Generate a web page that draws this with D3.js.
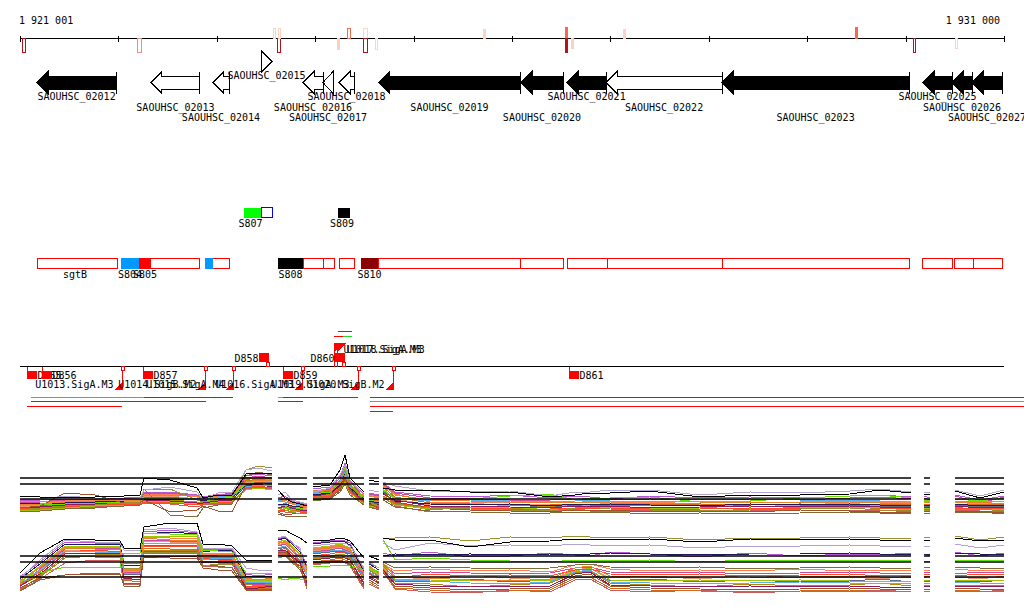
<!DOCTYPE html>
<html><head><meta charset="utf-8">
<script src="https://cdn.jsdelivr.net/npm/d3@7"></script>
<style>
body{margin:0;background:#fff}
svg{display:block}
text{font-family:"DejaVu Sans Mono",monospace;font-size:10px;fill:#000}
</style>
</head><body>
<svg id="c" width="1024" height="611"></svg>
<script>
// ---------------- DATA ----------------
const regionStart = 1921001, regionEnd = 1931000;
const axisTickStep = 1000;
const axisLabels = ["1 921 001", "1 931 000"];

// variant markers on the coordinate axis
const varStart  = [1921021,1922190,1923572,1923613,1923623,1924222,1924324,1924487,1924487,1924609,1925706,1926539,1926539,1926600,1927129,1929486,1930075,1930502];
const varEnd    = [1921052,1922231,1923592,1923643,1923643,1924243,1924354,1924527,1924527,1924629,1925726,1926559,1926559,1926610,1927149,1929506,1930096,1930522];
const varSide   = [-1,-1,1,-1,1,-1,1,1,-1,-1,1,1,-1,-1,1,1,-1,-1];
const varColor  = ["#b3141c","#e89080","#fcd2c2","#b3141c","#fcd2c2","#fcd0c0","#f26a4f","#fcd2c2","#b3141c","#fcd2c2","#fcd2c2","#f26a4f","#b3141c","#fcd2c2","#fcd2c2","#f26a4f","#b3141c","#fcd2c2"];
const varFilled = [0,0,0,0,0,1,0,0,0,0,1,1,1,1,1,1,0,0];
const varLen    = [14,14,10,14,10,11,10,10,14,11,9,11,14,10,9,11,14,10];

// genes
const geneNames  = ["SAOUHSC_02012","SAOUHSC_02013","SAOUHSC_02014","SAOUHSC_02015","SAOUHSC_02016","SAOUHSC_02017","SAOUHSC_02018","SAOUHSC_02019","SAOUHSC_02020","SAOUHSC_02021","SAOUHSC_02022","SAOUHSC_02023","SAOUHSC_02025","SAOUHSC_02026","SAOUHSC_02027"];
const geneStart  = [1921174,1922332,1922962,1923450,1923877,1924080,1924243,1924649,1926092,1926560,1926956,1928135,1930177,1930472,1930675];
const geneEnd    = [1921977,1922830,1923125,1923562,1924080,1924182,1924395,1926082,1926519,1926956,1928135,1930035,1930472,1930675,1930980];
const geneStrand = [-1,-1,-1,1,-1,-1,-1,-1,-1,-1,-1,-1,-1,-1,-1];
const geneFilled = [1,0,0,0,0,0,0,1,1,1,0,1,1,1,1];
const geneLane   = [0,0,0,1,0,0,0,0,0,0,0,0,0,0,0];
const geneLabelRow = [1,2,3,1,2,3,1,2,3,1,2,3,1,2,3];

// small features above the box row
const sfStart = [1923277,1923450,1924233];
const sfEnd   = [1923450,1923562,1924354];
const sfColor = ["#00ff00","#0000ff","#000000"];
const sfFilled= [1,0,1];
const sfLabel = ["S807","","S809"];

// red outlined boxes row
const boxStart = [1921174,1922210,1922962,1923877,1924080,1924243,1924639,1926082,1926560,1926966,1928135,1930167,1930502,1930685];
const boxEnd   = [1921987,1922830,1923125,1924080,1924192,1924395,1926082,1926519,1926966,1928135,1930035,1930472,1930685,1930980];
const boxLabel = ["sgtB","","","","","","","","","","","","",""];
const rfStart = [1922027,1922210,1922881,1923623,1924466];
const rfEnd   = [1922210,1922332,1922962,1923877,1924639];
const rfColor = ["#0099ff","#ff0000","#0099ff","#000000","#8b0000"];
const rfLabel = ["S804","S805","","S808","S810"];

// D features
const dPos    = [1921072,1921225,1922251,1923430,1923674,1924202,1926580];
const dStrand = [-1,-1,-1,1,-1,1,-1];
const dName   = ["D855","D856","D857","D858","D859","D860","D861"];

// U features
const uPos    = [1922038,1922881,1923166,1923867,1924436,1924791,1924192,1924222];
const uStrand = [-1,-1,-1,-1,-1,-1,1,1];
const uName   = ["U1013.SigA.M3","U1014.SigB.M2","U1015.SigA.M4","U1016.SigA.M3","U1019.SigA.M3","U1020.SigB.M2","U1017.SigA.M3","U1018.SigA.M3"];

// read coverage lines
const rlStart = [1921113,1922261,1923623,1923674,1924558,1921113,1923623,1924558,1921072,1924558,1924558,1924233,1924192,1924283];
const rlEnd   = [1922261,1923166,1923674,1924436,1931204,1922891,1923877,1931204,1922038,1931204,1924791,1924375,1924283,1924375];
const rlRow   = [1,1,1,1,1,2,2,2,3,3,4,-2,-1,-1];
const rlColor = ["#22dd22","#ff0000","#22dd22","#ff0000","#ff0000","#ff0000","#ff0000","#22dd22","#ff0000","#ff0000","#ff0000","#ff0000","#ff0000","#22dd22"];

// expression profiles
const exprSegments = [[1921001,1923562],[1923623,1923918],[1923978,1924497],[1924548,1924649],[1924690,1930055],[1930187,1930248],[1930502,1931000]];
const probePos = [1921001,1921204,1921458,1921763,1922017,1922058,1922220,1922261,1922525,1922800,1922861,1923013,1923155,1923298,1923420,1923562,
  1923623,1923694,1923765,1923846,1923918,
  1923978,1924151,1924253,1924304,1924354,1924497,
  1924548,1924649,
  1924690,1924812,1925167,1925574,1925980,1926387,1926641,1926793,1926997,1927403,1927911,1928419,1928927,1929435,1929740,1930055,
  1930187,1930248,
  1930502,1930757,1931000];
const refLevels = [42, 36, 21];
const seriesColors = ["#000000","#b3a3d3","#9c8f2e","#f07f2a","#a0522d","#66e000","#5ab0f0","#8b1a5e","#ff4a2a","#a2c200","#1c1c5c","#cc4aa0","#d2691e","#7f6a3a","#e9967a","#b8860b","#ba55d3","#cd5c5c","#ff7f50","#5a6f8f"];

const exprTop = [
 [24,23,22,23,24,24,25,42,40,32,22,25,25,46,47,46, 30,22,18,16,14, 33,35,50,65,42,28, 40,38, 32,30,30,28,28,23,25,27,27,29,23,25,25,26,30,27, 26,26, 29,22,28],
 [20,21,24,22,20,20,22,30,33,28,20,27,28,50,52,49, 25,28,20,18,16, 28,32,45,55,40,25, 30,28, 38,34,29,28,29,24,28,28,30,30,25,28,27,29,31,28, 28,27, 30,24,30],
 [10,12,14,15,17,17,18,30,31,20,18,20,22,50,54,52, 12,10,8,6,7, 22,26,40,50,35,20, 18,14, 22,16,12,11,10,9,12,13,11,10,9,10,11,12,10,9, 10,9, 10,11,9],
 [15,16,18,19,20,20,20,24,25,24,22,24,25,38,40,40, 18,20,16,14,12, 30,30,36,45,33,24, 24,22, 35,25,20,19,18,17,18,18,17,16,17,18,17,18,17,16, 18,17, 17,18,16],
 [12,14,27,25,18,18,17,20,8,10,14,9,8,35,38,36, 8,5,6,7,6, 20,22,30,42,30,18, 16,12, 28,18,12,10,9,8,10,9,10,8,9,8,10,9,8,7, 8,9, 8,9,7],
 [14,15,16,17,18,18,19,21,22,20,18,22,24,36,38,35, 15,14,10,12,10, 26,28,40,52,36,22, 20,18, 30,22,20,21,24,26,20,22,22,23,18,19,22,24,25,22, 20,19, 21,19,22],
 [18,19,19,19,20,20,21,22,22,22,20,23,24,33,35,34, 20,18,16,15,14, 27,30,38,48,34,22, 22,20, 30,22,19,20,19,18,19,20,19,19,18,19,19,20,19,18, 19,18, 19,18,19],
 [13,13,15,16,18,18,17,20,19,17,17,19,20,34,36,33, 12,14,12,10,9, 24,26,34,44,30,19, 17,15, 26,20,14,14,13,12,14,13,14,12,13,14,13,14,13,12, 13,12, 14,12,13],
 [11,12,13,15,16,16,16,18,17,15,16,17,18,32,34,32, 10,9,11,8,8, 23,24,32,40,28,17, 15,13, 24,17,13,12,11,11,12,11,12,11,11,12,11,12,12,11, 11,10, 12,11,12],
 [9,10,12,14,15,15,16,19,18,16,16,18,19,30,32,30, 9,12,9,8,7, 21,22,30,38,27,16, 14,12, 23,15,11,12,13,10,12,12,13,11,12,11,12,13,12,10, 12,11, 11,12,10],
 [16,17,17,18,19,19,19,21,21,20,19,21,22,35,37,36, 16,16,14,13,12, 25,27,35,46,32,21, 19,17, 27,19,16,15,16,14,16,15,16,15,14,16,15,16,15,14, 15,14, 16,14,15],
 [17,18,20,21,21,21,22,26,27,24,21,25,27,42,44,42, 22,24,18,17,15, 29,31,42,54,38,23, 26,24, 36,27,22,21,20,20,21,21,20,21,20,21,20,22,23,21, 22,20, 24,17,23],
 [12,13,16,17,18,18,18,22,22,20,19,20,22,40,43,41, 14,17,13,11,10, 26,29,38,50,34,21, 21,19, 33,23,17,16,15,15,16,16,15,15,16,15,16,15,16,15, 16,15, 16,15,16],
 [8,9,11,12,14,14,15,31,5,3,12,15,16,44,48,45, 6,4,3,4,4, 19,21,28,36,25,15, 13,10, 20,13,9,8,7,7,8,7,8,6,7,6,7,8,7,6, 7,6, 7,8,6],
 [13,15,17,18,19,19,20,23,24,21,20,23,23,37,39,38, 16,15,13,12,11, 27,28,37,47,33,20, 20,17, 31,21,15,17,14,16,13,15,17,14,16,13,15,17,14,15, 14,16, 15,17,14],
 [11,11,13,16,17,17,17,22,20,18,17,21,21,39,41,39, 11,13,10,9,9, 24,25,33,42,29,18, 16,14, 27,17,10,13,11,14,9,12,14,11,13,10,13,14,11,12, 12,10, 13,10,12],
 [19,20,21,20,22,22,23,27,28,25,23,26,26,44,46,44, 23,21,19,16,17, 31,33,44,57,39,26, 27,25, 37,28,24,23,25,22,24,23,21,24,22,23,22,24,25,23, 24,22, 25,20,24],
 [10,11,12,13,15,15,15,17,16,13,15,16,17,31,33,31, 9,8,7,9,8, 22,23,31,39,27,16, 14,11, 23,14,8,9,10,8,11,9,8,10,8,9,10,9,10,8, 9,8, 10,9,8],
 [16,16,19,20,21,21,21,25,26,23,21,24,26,41,42,40, 19,22,17,15,13, 28,31,39,51,36,23, 25,23, 34,26,18,18,17,19,17,19,18,17,19,17,18,19,18,17, 18,17, 18,16,17],
 [14,14,16,18,19,19,18,23,23,21,18,22,23,37,39,37, 13,12,11,11,11, 25,27,36,47,31,20, 18,16, 29,21,15,16,15,13,15,14,15,14,15,14,14,15,14,13, 14,13, 15,13,14]
];
const exprBottom = [
 [25,45,59,58,57,50,49,71,75,75,54,54,52,38,38,37, 68,68,64,60,55, 57,58,60,59,57,40, 42,38, 60,58,58,51,56,57,59,59,58,59,56,59,58,59,58,57, 58,58, 60,57,58],
 [20,38,58,56,55,48,48,68,70,66,50,50,50,30,28,28, 60,62,55,50,20, 52,54,55,55,52,30, 36,30, 55,48,55,52,53,52,54,53,52,53,50,52,52,53,52,52, 52,51, 54,50,53],
 [15,22,42,41,40,30,30,45,46,46,32,34,34,14,12,14, 40,42,35,30,28, 40,42,44,43,40,22, 28,22, 60,60,61,57,61,60,62,61,60,61,58,60,60,61,60,59, 61,60, 62,58,61],
 [18,30,50,49,48,28,27,60,58,57,42,43,44,20,18,20, 55,56,50,40,30, 48,50,52,50,48,25, 32,25, 35,22,20,18,17,19,30,32,22,21,20,20,21,22,21,20, 22,21, 20,21,20],
 [10,20,23,24,23,15,14,42,40,40,30,28,27,8,7,8, 45,46,40,30,12, 35,37,38,36,34,12, 18,12, 25,12,10,8,9,10,22,24,12,10,9,8,9,10,9,8, 9,8, 10,9,8],
 [22,25,31,31,30,45,45,65,64,63,48,47,46,25,24,25, 20,18,20,19,18, 32,32,33,33,32,28, 30,26, 58,38,40,38,37,36,38,38,37,38,36,38,38,37,38,37, 36,37, 38,37,38],
 [14,28,47,46,45,25,24,55,55,54,38,40,40,16,15,16, 50,52,45,38,25, 45,47,48,47,45,20, 26,20, 30,18,17,15,14,16,26,28,16,15,14,15,16,15,14,15, 15,14, 16,15,14],
 [12,24,44,45,44,20,18,40,42,41,35,36,35,10,10,12, 48,48,42,35,15, 38,40,41,40,38,14, 20,15, 28,14,12,12,11,12,24,26,13,12,11,12,11,12,11,10, 12,11, 12,11,12],
 [13,26,46,48,46,22,22,52,52,51,40,38,38,12,11,13, 47,50,44,36,22, 42,44,46,45,42,18, 24,18, 32,20,24,22,23,22,28,29,24,23,24,22,23,24,22,23, 24,23, 22,24,23],
 [16,32,52,52,51,30,30,62,62,61,45,45,44,18,17,18, 56,58,52,44,26, 50,52,54,52,50,24, 30,24, 33,19,18,17,18,17,27,30,18,17,18,17,18,17,16,17, 17,18, 18,17,18],
 [19,34,54,54,53,33,32,64,66,64,46,48,47,22,21,22, 58,60,54,46,30, 54,56,57,56,53,26, 34,28, 42,44,43,44,43,44,43,44,45,44,43,44,44,45,44,43, 44,43, 45,44,44],
 [11,29,49,50,49,26,26,58,57,56,40,41,41,14,13,15, 52,54,47,40,24, 46,48,50,48,46,22, 28,21, 34,24,26,25,24,25,30,31,26,25,26,24,25,26,25,24, 26,25, 24,26,25],
 [9,21,40,42,41,18,16,50,49,49,36,35,34,11,9,10, 44,45,38,32,10, 36,38,40,38,36,10, 16,10, 30,10,8,6,7,8,20,21,10,8,7,6,7,8,6,7, 7,6, 8,7,6],
 [7,18,23,25,24,12,12,47,47,46,33,32,30,9,8,9, 42,43,36,28,14, 34,36,37,36,33,16, 22,16, 36,30,31,30,29,30,33,34,31,30,31,29,30,31,30,29, 31,30, 31,30,29],
 [17,27,48,47,47,27,26,57,56,55,41,42,42,17,16,17, 53,55,48,42,27, 47,49,51,49,47,23, 29,23, 31,21,19,23,20,18,28,30,20,22,19,23,20,21,19,22, 20,22, 21,19,22],
 [12,23,45,44,43,19,19,48,48,47,37,37,36,11,10,11, 46,47,41,34,18, 39,41,43,41,39,15, 21,14, 29,15,14,11,13,15,25,27,15,13,11,14,12,13,15,12, 13,12, 13,12,13],
 [21,36,56,55,54,35,34,66,68,65,48,49,49,24,22,24, 59,61,56,48,32, 55,57,58,57,55,28, 35,30, 45,42,46,41,42,45,43,42,46,44,41,45,42,44,43,45, 44,42, 46,42,45],
 [8,19,35,38,37,14,13,44,45,44,32,31,31,8,7,9, 43,44,37,30,9, 33,35,36,35,32,9, 14,9, 27,9,6,5,8,6,18,19,8,6,8,5,7,6,8,6, 6,7, 7,6,8],
 [15,31,51,51,50,29,29,61,60,59,44,44,43,19,18,19, 54,57,51,43,29, 49,51,53,51,49,25, 31,26, 34,27,29,27,28,26,33,34,29,27,28,27,29,27,28,27, 28,27, 29,27,28],
 [14,27,47,47,46,24,23,53,53,53,39,39,39,15,14,15, 49,51,45,37,22, 44,46,47,46,44,19, 25,19, 31,17,16,19,16,18,25,27,17,19,16,18,16,17,19,16, 16,17, 17,16,18]
];

// ---------------- DRAWING ----------------
const svg = d3.select("#c");
const x = d3.scaleLinear().domain([regionStart, regionEnd]).range([20, 1004]);
const crisp = g => g.attr("shape-rendering","crispEdges");

// --- coordinate axis ---
const axisY = 38.5;
const gAx = svg.append("g").call(crisp);
gAx.append("line").attr("x1", x(regionStart)).attr("x2", x(regionEnd)).attr("y1", axisY).attr("y2", axisY).attr("stroke","#000");
const ticks = d3.range(regionStart, regionEnd, axisTickStep).concat([regionEnd]);
gAx.selectAll("line.t").data(ticks).join("line").attr("class","t")
  .attr("x1", d => Math.round(x(d))+0.5).attr("x2", d => Math.round(x(d))+0.5)
  .attr("y1", 35.5).attr("y2", 41.5).attr("stroke","#000");
svg.append("text").attr("x", x(regionStart)-1).attr("y", 24).text(axisLabels[0]);
svg.append("text").attr("x", x(regionEnd)-4).attr("y", 24).attr("text-anchor","end").text(axisLabels[1]);

// variant markers
const gV = svg.append("g").call(crisp);
varStart.forEach((s,i) => {
  const x0 = Math.round(x(s)), w = Math.max(2, Math.round(x(varEnd[i]) - x(s)));
  const y0 = varSide[i] > 0 ? axisY - varLen[i] : axisY;
  gV.append("rect").attr("x", x0+0.5).attr("y", y0).attr("width", w).attr("height", varLen[i])
    .attr("fill", varFilled[i] ? varColor[i] : "#fff").attr("stroke", varColor[i]);
});

// --- genes ---
const gG = svg.append("g").call(crisp);
const bh = 6.5, hh = 11, headMax = 11;
geneNames.forEach((name,i) => {
  const s = x(geneStart[i]), e = x(geneEnd[i]);
  const cy = 82.5 - 21*geneLane[i];
  const hl = Math.min(headMax, e - s);
  let pts;
  if (geneStrand[i] < 0) {
    pts = (hl >= e - s) ? [[e,cy-hh],[s,cy],[e,cy+hh]]
      : [[e,cy-bh],[s+hl,cy-bh],[s+hl,cy-hh],[s,cy],[s+hl,cy+hh],[s+hl,cy+bh],[e,cy+bh]];
  } else {
    pts = (hl >= e - s) ? [[s,cy-hh],[e,cy],[s,cy+hh]]
      : [[s,cy-bh],[e-hl,cy-bh],[e-hl,cy-hh],[e,cy],[e-hl,cy+hh],[e-hl,cy+bh],[s,cy+bh]];
  }
  gG.append("polygon").attr("points", pts.map(p => p.join(",")).join(" "))
    .attr("fill", geneFilled[i] ? "#000" : "#fff").attr("stroke","#000");
  const lx = geneStrand[i] < 0 ? e : s;
  gG.append("line").attr("x1", lx).attr("x2", lx).attr("y1", cy-hh).attr("y2", cy+hh).attr("stroke","#000");
  svg.append("text").attr("x", (s+e)/2).attr("y", cy + 17.5 + (geneLabelRow[i]-1)*10.5)
    .attr("text-anchor","middle").text(name);
});

// --- small features ---
const gS = svg.append("g").call(crisp);
sfStart.forEach((s,i) => {
  const x0 = x(s), x1 = x(sfEnd[i]);
  gS.append("rect").attr("x", x0).attr("y", 207.5).attr("width", x1-x0).attr("height", 10)
    .attr("fill", sfFilled[i] ? sfColor[i] : "#fff").attr("stroke", sfFilled[i] ? "none" : sfColor[i]);
  if (sfLabel[i]) svg.append("text").attr("x", (x0+x1)/2 - 2).attr("y", 227).attr("text-anchor","middle").text(sfLabel[i]);
});

// --- red boxes row ---
const gB = svg.append("g").call(crisp);
boxStart.forEach((s,i) => {
  const x0 = x(s), x1 = x(boxEnd[i]);
  gB.append("rect").attr("x", x0).attr("y", 258.5).attr("width", x1-x0).attr("height", 10)
    .attr("fill","#fff").attr("stroke","#ff0000");
  if (boxLabel[i]) svg.append("text").attr("x", (x0+x1)/2 - 2).attr("y", 278).attr("text-anchor","middle").text(boxLabel[i]);
});
rfStart.forEach((s,i) => {
  const x0 = x(s), x1 = x(rfEnd[i]);
  gB.append("rect").attr("x", x0).attr("y", 258).attr("width", x1-x0).attr("height", 11).attr("fill", rfColor[i]);
  if (rfLabel[i]) svg.append("text").attr("x", (x0+x1)/2).attr("y", 278).attr("text-anchor","middle").text(rfLabel[i]);
});

// --- D/U track ---
const tY = 366.5;
const gT = svg.append("g");
gT.append("line").attr("x1", x(regionStart)).attr("x2", x(regionEnd)).attr("y1", tY).attr("y2", tY).attr("stroke","#000").call(crisp);
const RED = "#ff0000";
const rowY = {1:397.5, 2:401.5, 3:406.5, 4:411.5, "-1":336.5, "-2":331.5};
rlStart.forEach((s,i) => {
  gT.append("line").attr("x1", x(s)).attr("x2", x(rlEnd[i])).attr("y1", rowY[rlRow[i]]).attr("y2", rowY[rlRow[i]])
    .attr("stroke", rlColor[i]).call(crisp);
});
uPos.forEach((p,i) => {
  const px = Math.round(x(p)) + 0.5;
  if (uStrand[i] < 0) {
    gT.append("rect").attr("x", px-1.5).attr("y", tY).attr("width", 3).attr("height", 4).attr("fill","#fff").attr("stroke", RED).call(crisp);
    gT.append("line").attr("x1", px).attr("x2", px).attr("y1", tY+4).attr("y2", 390).attr("stroke", RED).call(crisp);
    gT.append("polygon").attr("points", `${px-8},390 ${px},390 ${px},382`).attr("fill", RED).call(crisp);
    gT.append("text").attr("x", px-9).attr("y", 388).attr("text-anchor","end").text(uName[i]);
  } else {
    gT.append("line").attr("x1", px).attr("x2", px).attr("y1", tY).attr("y2", 343).attr("stroke", RED).call(crisp);
    gT.append("polygon").attr("points", `${px},343 ${px+9},343 ${px},352`).attr("fill", RED).call(crisp);
    gT.append("text").attr("x", px+9).attr("y", 353).text(uName[i]);
  }
});
dPos.forEach((p,i) => {
  const px = Math.round(x(p)) + 0.5;
  if (dStrand[i] < 0) {
    gT.append("line").attr("x1", px).attr("x2", px).attr("y1", tY).attr("y2", 371).attr("stroke", RED).call(crisp);
    gT.append("rect").attr("x", px-0.5).attr("y", 371).attr("width", 10).attr("height", 8).attr("fill", RED).call(crisp);
    gT.append("text").attr("x", px+10).attr("y", 379).text(dName[i]);
  } else {
    gT.append("rect").attr("x", px-0.5).attr("y", 353).attr("width", 10).attr("height", 9).attr("fill", RED).call(crisp);
    gT.append("rect").attr("x", px+7).attr("y", 362.5).attr("width", 3).attr("height", 4).attr("fill","#fff").attr("stroke", RED).call(crisp);
    gT.append("text").attr("x", px-1).attr("y", 362).attr("text-anchor","end").text(dName[i]);
  }
});

// --- expression panels ---
const yTop = d3.scaleLinear().domain([0,80]).range([520,440]);
const yBot = d3.scaleLinear().domain([0,80]).range([598,518]);
function panel(data, yS) {
  const g = svg.append("g");
  const line = d3.line().x(d => x(d.p)).y(d => yS(d.v));
  for (let si = data.length - 1; si >= 0; si--) {
    const vals = data[si];
    exprSegments.forEach(seg => {
      const pts = probePos.map((p,i) => ({p, v: vals[i]})).filter(d => d.p >= seg[0] && d.p <= seg[1]);
      g.append("path").attr("d", line(pts)).attr("fill","none")
        .attr("stroke", seriesColors[si]).attr("stroke-width", 1).attr("shape-rendering","crispEdges");
    });
  }
  exprSegments.forEach(seg => {
    refLevels.forEach(r => {
      g.append("line").attr("x1", x(seg[0])).attr("x2", x(seg[1]))
        .attr("y1", yS(r)).attr("y2", yS(r)).attr("stroke","#000").attr("stroke-width", 1.5);
    });
  });
}
panel(exprTop, yTop);
panel(exprBottom, yBot);
</script>
</body></html>
